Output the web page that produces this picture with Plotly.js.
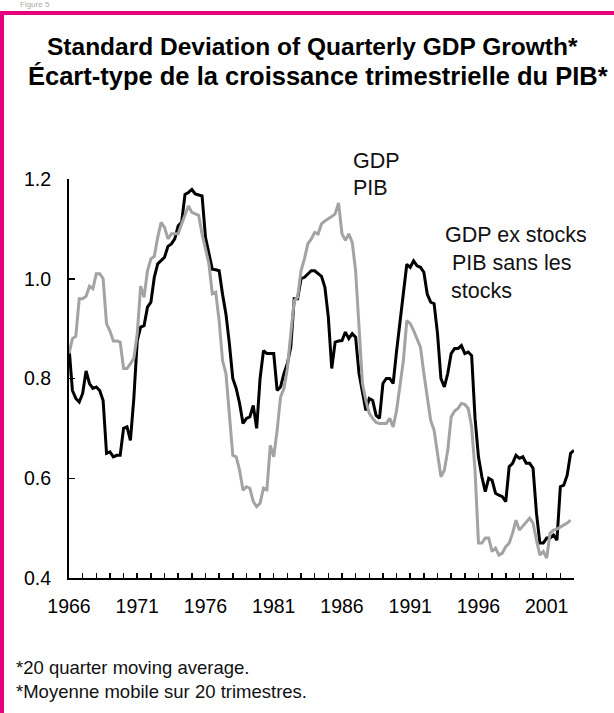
<!DOCTYPE html>
<html>
<head>
<meta charset="utf-8">
<script src="https://cdn.plot.ly/plotly-3.0.1.min.js"></script>
<style>
  html, body { margin: 0; padding: 0; background: #fff; }
  #wrap { position: relative; width: 614px; height: 713px; overflow: hidden; }
  #chart { position: absolute; left: 0; top: 0; width: 614px; height: 713px; }
  .bar-top { position: absolute; left: 0; top: 11px; width: 614px; height: 4px; background: #E5007D; pointer-events: none; }
  .bar-left { position: absolute; left: 0; top: 11px; width: 4px; height: 702px; background: #E5007D; pointer-events: none; }
  .fig { position: absolute; left: 20px; top: 0px; font: 8px/9px "Liberation Sans", Arial, sans-serif; color: #aaa; }
</style>
</head>
<body>
<div id="wrap">
  <div id="chart"></div>
  <div class="fig">Figure 5</div>
  <div class="bar-top"></div>
  <div class="bar-left"></div>
</div>
<script>
// ---- data (quarterly, starting 1966 Q1) ----
const startYear = 1966;

// GDP / PIB (grey line)
const gdp = [
  0.85,0.88,0.885,0.96,0.96,0.965,0.985,0.98,1.01,1.01,
  1.0,0.91,0.895,0.875,0.875,0.873,0.82,0.82,0.83,0.84,
  0.89,0.985,0.963,1.016,1.04,1.045,1.083,1.113,1.103,1.08,
  1.09,1.09,1.09,1.11,1.13,1.146,1.133,1.13,1.127,1.09,
  1.06,1.03,0.97,0.973,0.916,0.836,0.81,0.736,0.646,0.643,
  0.616,0.576,0.583,0.58,0.553,0.543,0.55,0.58,0.577,0.666,
  0.643,0.696,0.763,0.78,0.82,0.89,0.956,0.963,1.016,1.04,
  1.07,1.08,1.093,1.09,1.11,1.116,1.12,1.125,1.13,1.152,
  1.09,1.077,1.09,1.073,1.016,0.903,0.79,0.756,0.73,0.72,
  0.712,0.71,0.71,0.71,0.72,0.703,0.736,0.79,0.836,0.916,
  0.91,0.896,0.88,0.863,0.81,0.765,0.716,0.696,0.65,0.603,
  0.616,0.656,0.723,0.735,0.74,0.75,0.748,0.74,0.703,0.616,
  0.47,0.47,0.48,0.48,0.453,0.46,0.446,0.45,0.463,0.47,
  0.49,0.516,0.496,0.503,0.512,0.52,0.51,0.476,0.446,0.453,
  0.44,0.49,0.496,0.498,0.502,0.506,0.51,0.516
];

// GDP ex stocks / PIB sans les stocks (black line)
const gdpExStocks = [
  0.863,0.776,0.76,0.753,0.77,0.815,0.79,0.78,0.783,0.776,
  0.756,0.65,0.653,0.643,0.646,0.646,0.70,0.703,0.676,0.76,
  0.876,0.903,0.906,0.943,0.953,1.003,1.03,1.036,1.043,1.065,
  1.07,1.08,1.106,1.113,1.169,1.173,1.179,1.17,1.168,1.166,
  1.083,1.053,1.019,1.018,1.016,0.969,0.929,0.87,0.80,0.78,
  0.75,0.71,0.72,0.723,0.746,0.70,0.80,0.856,0.85,0.85,
  0.85,0.776,0.783,0.81,0.83,0.863,0.96,0.96,1.0,1.003,
  1.01,1.016,1.016,1.01,1.005,0.983,0.923,0.82,0.873,0.875,
  0.876,0.893,0.88,0.89,0.883,0.81,0.776,0.736,0.76,0.756,
  0.726,0.72,0.79,0.80,0.80,0.79,0.855,0.916,0.969,1.029,
  1.023,1.036,1.026,1.023,1.013,0.969,0.953,0.95,0.89,0.80,
  0.783,0.81,0.85,0.86,0.86,0.866,0.85,0.853,0.846,0.72,
  0.643,0.603,0.573,0.60,0.596,0.57,0.566,0.563,0.553,0.623,
  0.63,0.646,0.64,0.643,0.63,0.63,0.62,0.53,0.47,0.47,
  0.48,0.48,0.486,0.476,0.583,0.586,0.606,0.65,0.656
];

const yTickVals = [0.4, 0.6, 0.8, 1.0, 1.2];
const yTickText = ['0.4', '0.6', '0.8', '1.0', '1.2'];
const xRange = [1966, 2003];

const titleLines = ['Standard Deviation of Quarterly GDP Growth*',
                    'Écart-type de la croissance trimestrielle du PIB*'];
const labelGdp = ['GDP', 'PIB'];
const labelExStocks = ['GDP ex stocks', ' PIB sans les', 'stocks'];
const footnotes = ['*20 quarter moving average.', '*Moyenne mobile sur 20 trimestres.'];

// ---- build ----
const quarterOf = arr => arr.map((_, i) => startYear + i / 4);

const FONT = '"Liberation Sans", Arial, sans-serif';
const M = { l: 69, r: 40, t: 179, b: 135 };
const W = 614, H = 713;
const pw = W - M.l - M.r, ph = H - M.t - M.b;
const px = x => (x - M.l) / pw;
const py = y => (H - M.b - y) / ph;

function ann(text, x, y, opts) {
  return Object.assign({
    text: text, xref: 'paper', yref: 'paper', x: px(x), y: py(y),
    xanchor: 'left', yanchor: 'middle', showarrow: false,
    font: { family: FONT, size: 21.5, color: '#111' }
  }, opts || {});
}

const traces = [
  { x: quarterOf(gdpExStocks), y: gdpExStocks, type: 'scatter', mode: 'lines',
    name: 'GDP ex stocks', line: { color: '#000000', width: 3 }, hoverinfo: 'x+y' },
  { x: quarterOf(gdp), y: gdp, type: 'scatter', mode: 'lines',
    name: 'GDP', line: { color: '#A3A3A3', width: 3 }, hoverinfo: 'x+y' }
];

const titleFont1 = { family: FONT, size: 24.5, color: '#000', weight: 'bold' };
const titleFont2 = { family: FONT, size: 25.5, color: '#000', weight: 'bold' };
const noteFont = { family: FONT, size: 18.5, color: '#111' };

const annotations = [
  ann(titleLines[0], 312, 46, { xanchor: 'center', font: titleFont1 }),
  ann(titleLines[1], 318, 76, { xanchor: 'center', font: titleFont2 }),
  ann(labelGdp[0], 351, 161),
  ann(labelGdp[1], 351, 188),
  ann(labelExStocks[0], 443, 234.5),
  ann(labelExStocks[1], 444, 263),
  ann(labelExStocks[2], 449, 291),
  ann(footnotes[0], 14, 667, { font: noteFont }),
  ann(footnotes[1], 14, 691, { font: noteFont })
];

const layout = {
  width: W, height: H, margin: M,
  paper_bgcolor: '#ffffff', plot_bgcolor: '#ffffff',
  showlegend: false,
  font: { family: FONT, size: 19.5, color: '#000' },
  xaxis: {
    range: xRange, tickmode: 'linear', tick0: 1966, dtick: 5,
    ticks: 'inside', ticklen: 5, tickwidth: 1.5, tickcolor: '#000',
    minor: { dtick: 1, tick0: 1966, ticks: 'inside', ticklen: 5, tickwidth: 1.5, tickcolor: '#000', showgrid: false },
    showline: true, linecolor: '#000', linewidth: 2,
    showgrid: false, zeroline: false, fixedrange: true,
    tickfont: { family: FONT, size: 19.5, color: '#000' },
    ticklabelstandoff: 10
  },
  yaxis: {
    range: [0.4, 1.2], tickmode: 'array', tickvals: yTickVals, ticktext: yTickText,
    ticks: 'inside', ticklen: 6, tickwidth: 1.5, tickcolor: '#000',
    showline: true, linecolor: '#000', linewidth: 2,
    showgrid: false, zeroline: false, fixedrange: true,
    tickfont: { family: FONT, size: 19.5, color: '#000' },
    ticklabelstandoff: 12
  },
  annotations: annotations
};

Plotly.newPlot('chart', traces, layout, { displayModeBar: false, staticPlot: true });
</script>
</body>
</html>
